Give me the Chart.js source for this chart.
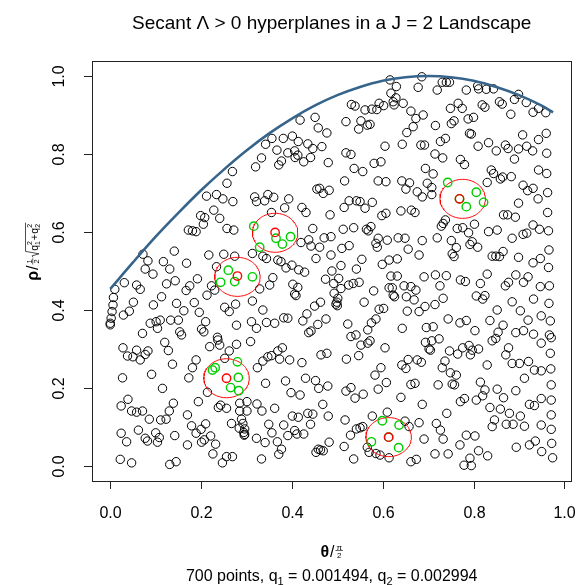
<!DOCTYPE html>
<html>
<head>
<meta charset="utf-8">
<script src="https://cdn.jsdelivr.net/npm/chart.js@4/dist/chart.umd.min.js"></script>
<style>
html,body{margin:0;padding:0;background:#fff;}
canvas{display:block;}
</style>
</head>
<body>
<canvas id="c" width="577" height="585" style="width:577px;height:585px"></canvas>
<script>
// ---------------- DATA ----------------
const xTicks = [0, 0.2, 0.4, 0.6, 0.8, 1.0];
const xTickLabels = ["0.0", "0.2", "0.4", "0.6", "0.8", "1.0"];
const yTicks = [0, 0.2, 0.4, 0.6, 0.8, 1.0];
const yTickLabels = ["0.0", "0.2", "0.4", "0.6", "0.8", "1.0"];

// upper envelope (blue curve)
const curveX = [0, 0.05, 0.1, 0.15, 0.2, 0.25, 0.3, 0.35, 0.4, 0.45, 0.5, 0.55, 0.6, 0.65, 0.7, 0.75, 0.8, 0.85, 0.9, 0.95, 0.975];
const curveY = [0.454, 0.522, 0.588, 0.649, 0.707, 0.760, 0.809, 0.853, 0.891, 0.924, 0.951, 0.972, 0.988, 0.997, 1.0, 0.997, 0.988, 0.972, 0.951, 0.924, 0.907];

// black points (theta, rho)
const landscapePoints = [
[0.269,0.755],[0.257,0.725],[0.212,0.692],[0.234,0.696],
[0.616,0.990],[0.630,0.973],[0.618,0.956],[0.629,0.944],[0.623,0.934],[0.625,0.926],[0.645,0.930],[0.662,0.910],[0.653,0.855],[0.643,0.825],[0.531,0.927],[0.539,0.923],[0.561,0.913],[0.576,0.915],[0.587,0.914],[0.602,0.924],[0.592,0.930],[0.519,0.883],[0.552,0.885],[0.566,0.874],[0.572,0.876],[0.547,0.864],[0.451,0.894],[0.418,0.887],[0.458,0.867],[0.477,0.854],[0.342,0.825],[0.356,0.840],[0.381,0.840],[0.401,0.846],[0.414,0.832],[0.435,0.826],[0.446,0.814],[0.466,0.819],[0.367,0.810],[0.391,0.803],[0.406,0.808],[0.413,0.797],[0.407,0.791],[0.426,0.780],[0.441,0.791],[0.480,0.778],[0.377,0.782],[0.371,0.772],[0.333,0.790],[0.320,0.767],[0.519,0.803],[0.530,0.799],[0.581,0.776],[0.596,0.780],[0.605,0.820],[0.537,0.763],[0.556,0.755],[0.516,0.731],[0.590,0.731],[0.607,0.729],[0.642,0.731],[0.659,0.726],[0.651,0.710],[0.455,0.710],[0.461,0.712],[0.469,0.699],[0.482,0.707],[0.318,0.690],[0.347,0.696],[0.360,0.689],
[0.686,0.998],[0.678,0.971],[0.720,0.964],[0.731,0.984],[0.740,0.984],[0.747,0.984],[0.784,0.964],[0.809,0.975],[0.811,0.967],[0.828,0.966],[0.844,0.967],[0.857,0.934],[0.863,0.928],[0.890,0.940],[0.899,0.953],[0.916,0.932],[0.931,0.907],[0.943,0.917],[0.959,0.906],[0.882,0.902],[0.673,0.891],[0.689,0.900],[0.667,0.870],[0.716,0.873],[0.751,0.878],[0.757,0.885],[0.766,0.930],[0.775,0.917],[0.749,0.917],[0.788,0.890],[0.800,0.894],[0.819,0.926],[0.825,0.920],[0.791,0.853],[0.795,0.851],[0.684,0.823],[0.692,0.823],[0.727,0.832],[0.738,0.840],[0.810,0.820],[0.833,0.829],[0.850,0.808],[0.870,0.823],[0.876,0.814],[0.899,0.813],[0.917,0.820],[0.930,0.808],[0.908,0.849],[0.943,0.837],[0.960,0.853],[0.961,0.802],[0.715,0.800],[0.732,0.790],[0.771,0.786],[0.780,0.773],[0.890,0.787],[0.694,0.763],[0.711,0.749],[0.839,0.759],[0.844,0.750],[0.859,0.736],[0.864,0.741],[0.883,0.742],[0.830,0.727],[0.943,0.759],[0.961,0.750],[0.909,0.720],[0.919,0.706],[0.931,0.712],[0.963,0.701],[0.698,0.725],[0.708,0.714],[0.676,0.703],[0.708,0.696],[0.687,0.690],
[0.248,0.685],[0.270,0.678],[0.228,0.656],[0.199,0.642],[0.208,0.637],[0.241,0.635],[0.205,0.620],[0.172,0.605],[0.181,0.603],[0.189,0.601],[0.257,0.609],[0.272,0.605],[0.141,0.551],[0.217,0.541],[0.250,0.543],[0.274,0.538],[0.313,0.545],[0.168,0.520],[0.117,0.524],[0.131,0.505],[0.077,0.505],[0.094,0.492],[0.083,0.526],[0.072,0.543],[0.031,0.470],[0.058,0.464],[0.066,0.453],[0.124,0.467],[0.143,0.475],[0.175,0.462],[0.192,0.480],[0.167,0.450],[0.223,0.462],[0.230,0.451],[0.213,0.438],[0.234,0.511],[0.010,0.453],[0.007,0.432],[0.006,0.413],[0.004,0.396],[0.002,0.379],[0.000,0.366],[0.000,0.362],[0.029,0.387],[0.042,0.397],[0.051,0.420],[0.113,0.434],[0.095,0.413],[0.146,0.417],[0.162,0.398],[0.185,0.419],[0.196,0.394],[0.252,0.407],[0.262,0.396],[0.276,0.415],[0.313,0.423],[0.071,0.340],[0.088,0.366],[0.101,0.370],[0.110,0.374],[0.104,0.353],[0.133,0.374],[0.150,0.374],[0.153,0.344],[0.157,0.336],[0.201,0.351],[0.206,0.344],[0.210,0.370],[0.236,0.330],[0.278,0.361],[0.311,0.370],
[0.322,0.678],[0.340,0.680],[0.393,0.685],[0.384,0.662],[0.355,0.650],[0.422,0.663],[0.431,0.650],[0.484,0.644],[0.515,0.663],[0.526,0.680],[0.542,0.680],[0.550,0.678],[0.561,0.661],[0.577,0.676],[0.607,0.648],[0.598,0.642],[0.640,0.654],[0.663,0.656],[0.446,0.609],[0.420,0.573],[0.437,0.580],[0.442,0.564],[0.461,0.561],[0.471,0.585],[0.486,0.588],[0.513,0.607],[0.536,0.611],[0.564,0.607],[0.574,0.614],[0.568,0.603],[0.510,0.558],[0.526,0.565],[0.590,0.584],[0.585,0.571],[0.588,0.561],[0.610,0.579],[0.634,0.585],[0.649,0.584],[0.656,0.556],[0.453,0.532],[0.486,0.541],[0.336,0.538],[0.344,0.532],[0.369,0.528],[0.376,0.524],[0.387,0.508],[0.400,0.515],[0.415,0.503],[0.428,0.497],[0.508,0.514],[0.542,0.505],[0.554,0.530],[0.599,0.517],[0.614,0.528],[0.632,0.531],[0.358,0.483],[0.351,0.464],[0.329,0.454],[0.402,0.466],[0.413,0.458],[0.406,0.441],[0.409,0.437],[0.474,0.479],[0.488,0.500],[0.503,0.481],[0.508,0.455],[0.492,0.468],[0.493,0.443],[0.501,0.430],[0.499,0.420],[0.497,0.415],[0.500,0.411],[0.525,0.464],[0.535,0.468],[0.548,0.471],[0.580,0.449],[0.618,0.487],[0.632,0.487],[0.614,0.457],[0.621,0.457],[0.623,0.438],[0.626,0.434],[0.647,0.462],[0.662,0.460],[0.652,0.434],[0.336,0.400],[0.450,0.410],[0.463,0.420],[0.433,0.390],[0.475,0.377],[0.382,0.380],[0.391,0.379],[0.344,0.368],[0.362,0.366],[0.322,0.353],[0.424,0.372],[0.457,0.363],[0.442,0.346],[0.437,0.342],[0.523,0.364],[0.559,0.420],[0.575,0.367],[0.592,0.402],[0.602,0.404],[0.654,0.397],[0.585,0.377],[0.567,0.349],[0.541,0.336],[0.530,0.332],[0.643,0.353],
[0.671,0.650],[0.942,0.685],[0.899,0.674],[0.963,0.650],[0.866,0.644],[0.875,0.644],[0.892,0.638],[0.738,0.631],[0.733,0.622],[0.729,0.615],[0.764,0.609],[0.776,0.611],[0.789,0.598],[0.802,0.620],[0.833,0.601],[0.852,0.605],[0.885,0.584],[0.909,0.594],[0.917,0.597],[0.931,0.618],[0.945,0.607],[0.965,0.603],[0.687,0.578],[0.720,0.585],[0.751,0.578],[0.762,0.560],[0.792,0.568],[0.797,0.575],[0.809,0.561],[0.753,0.544],[0.757,0.537],[0.841,0.538],[0.849,0.538],[0.857,0.537],[0.865,0.550],[0.899,0.535],[0.931,0.521],[0.947,0.532],[0.966,0.554],[0.965,0.509],[0.680,0.541],[0.691,0.485],[0.716,0.490],[0.740,0.488],[0.726,0.462],[0.771,0.477],[0.782,0.473],[0.815,0.468],[0.830,0.492],[0.870,0.462],[0.877,0.471],[0.893,0.490],[0.910,0.471],[0.920,0.485],[0.947,0.460],[0.967,0.462],[0.673,0.451],[0.669,0.426],[0.693,0.409],[0.715,0.414],[0.733,0.430],[0.806,0.436],[0.820,0.428],[0.825,0.437],[0.885,0.421],[0.932,0.428],[0.966,0.417],[0.852,0.400],[0.903,0.398],[0.680,0.396],[0.744,0.377],[0.770,0.367],[0.784,0.373],[0.836,0.373],[0.865,0.361],[0.920,0.374],[0.949,0.385],[0.969,0.372],[0.696,0.355],[0.711,0.357],[0.803,0.347],[0.854,0.343],[0.893,0.342],[0.910,0.347],[0.932,0.338],[0.967,0.336],
[0.120,0.317],[0.128,0.296],[0.028,0.303],[0.038,0.282],[0.050,0.280],[0.058,0.297],[0.066,0.272],[0.077,0.286],[0.083,0.295],[0.137,0.261],[0.189,0.272],[0.181,0.252],[0.219,0.306],[0.237,0.323],[0.241,0.310],[0.262,0.295],[0.278,0.312],[0.309,0.319],[0.252,0.276],[0.027,0.226],[0.091,0.235],[0.115,0.199],[0.173,0.226],[0.214,0.189],[0.194,0.165],[0.243,0.156],[0.238,0.150],[0.256,0.148],[0.285,0.161],[0.301,0.165],[0.039,0.171],[0.024,0.154],[0.047,0.141],[0.058,0.138],[0.071,0.141],[0.086,0.120],[0.111,0.118],[0.123,0.120],[0.130,0.141],[0.139,0.161],[0.170,0.131],[0.179,0.103],[0.200,0.094],[0.210,0.108],[0.189,0.084],[0.201,0.061],[0.207,0.067],[0.221,0.077],[0.232,0.056],[0.170,0.054],[0.267,0.109],[0.285,0.141],[0.301,0.141],[0.289,0.120],[0.292,0.109],[0.284,0.097],[0.296,0.095],[0.294,0.086],[0.296,0.081],[0.295,0.079],[0.024,0.084],[0.036,0.062],[0.062,0.092],[0.077,0.071],[0.082,0.064],[0.100,0.085],[0.108,0.073],[0.104,0.061],[0.142,0.078],[0.022,0.017],[0.047,0.008],[0.131,0.004],[0.145,0.011],[0.226,0.031],[0.247,0.008],[0.256,0.024],[0.269,0.024],
[0.552,0.310],[0.567,0.315],[0.572,0.321],[0.605,0.303],[0.520,0.274],[0.547,0.283],[0.379,0.303],[0.369,0.295],[0.355,0.283],[0.347,0.280],[0.336,0.269],[0.324,0.252],[0.373,0.274],[0.395,0.272],[0.422,0.265],[0.464,0.285],[0.477,0.289],[0.342,0.212],[0.386,0.218],[0.398,0.188],[0.418,0.182],[0.430,0.225],[0.452,0.219],[0.459,0.199],[0.479,0.205],[0.519,0.192],[0.530,0.201],[0.539,0.174],[0.557,0.184],[0.583,0.233],[0.596,0.252],[0.608,0.214],[0.590,0.197],[0.642,0.259],[0.651,0.250],[0.656,0.273],[0.662,0.209],[0.640,0.176],[0.323,0.159],[0.334,0.141],[0.362,0.148],[0.401,0.128],[0.414,0.125],[0.435,0.135],[0.446,0.133],[0.468,0.158],[0.480,0.128],[0.441,0.107],[0.382,0.105],[0.349,0.107],[0.356,0.085],[0.322,0.071],[0.341,0.060],[0.368,0.062],[0.377,0.043],[0.371,0.030],[0.391,0.078],[0.406,0.091],[0.411,0.082],[0.426,0.082],[0.517,0.118],[0.529,0.079],[0.542,0.095],[0.550,0.098],[0.556,0.101],[0.482,0.061],[0.463,0.041],[0.453,0.035],[0.458,0.043],[0.469,0.039],[0.515,0.050],[0.536,0.018],[0.333,0.018],[0.577,0.128],[0.610,0.138],[0.649,0.115],[0.658,0.101],[0.566,0.048],[0.570,0.035],[0.585,0.032],[0.594,0.028],[0.614,0.021],[0.662,0.011],
[0.694,0.317],[0.708,0.321],[0.724,0.326],[0.702,0.300],[0.705,0.297],[0.747,0.295],[0.765,0.287],[0.776,0.303],[0.790,0.309],[0.793,0.285],[0.797,0.297],[0.811,0.300],[0.841,0.321],[0.849,0.327],[0.877,0.303],[0.871,0.285],[0.949,0.315],[0.971,0.329],[0.969,0.289],[0.676,0.272],[0.685,0.266],[0.731,0.252],[0.737,0.269],[0.749,0.239],[0.762,0.233],[0.753,0.210],[0.758,0.208],[0.722,0.208],[0.671,0.212],[0.830,0.259],[0.885,0.263],[0.901,0.263],[0.921,0.268],[0.934,0.246],[0.949,0.244],[0.970,0.249],[0.912,0.225],[0.815,0.215],[0.825,0.195],[0.820,0.180],[0.806,0.169],[0.771,0.165],[0.780,0.173],[0.852,0.197],[0.866,0.175],[0.893,0.193],[0.949,0.173],[0.971,0.208],[0.971,0.169],[0.687,0.158],[0.741,0.135],[0.680,0.111],[0.718,0.109],[0.727,0.092],[0.691,0.069],[0.733,0.069],[0.836,0.150],[0.859,0.146],[0.879,0.135],[0.903,0.128],[0.923,0.158],[0.934,0.155],[0.846,0.118],[0.841,0.101],[0.872,0.107],[0.887,0.107],[0.912,0.102],[0.949,0.105],[0.971,0.131],[0.971,0.094],[0.784,0.079],[0.803,0.077],[0.770,0.054],[0.811,0.039],[0.831,0.026],[0.715,0.031],[0.744,0.031],[0.779,0.002],[0.792,0.020],[0.795,0.001],[0.674,0.017],[0.894,0.048],[0.923,0.054],[0.936,0.064],[0.950,0.037],[0.972,0.058],[0.974,0.021]
];

// secant-hyperplane neighbourhoods (green), centres (red) and circles
const greenPoints = [
[0.743,0.727],[0.806,0.702],[0.769,0.685],[0.784,0.665],[0.822,0.676],
[0.316,0.615],[0.365,0.584],[0.379,0.569],[0.397,0.588],[0.329,0.561],
[0.260,0.502],[0.243,0.471],[0.274,0.473],[0.313,0.485],
[0.225,0.246],[0.231,0.252],[0.280,0.267],[0.282,0.227],[0.265,0.201],[0.283,0.193],
[0.599,0.116],[0.636,0.105],[0.613,0.074],[0.575,0.062],[0.635,0.047]
];
const redPoints = [[0.769,0.685],[0.363,0.599],[0.280,0.487],[0.256,0.225],[0.613,0.074]];
const circleCentresX = [0.776, 0.363, 0.280, 0.256, 0.613];
const circleCentresY = [0.685, 0.598, 0.485, 0.225, 0.074];
const circleRadius = 0.05;

// ---------------- CHART ----------------
const FONT = '"Liberation Sans", Arial, Helvetica, sans-serif';
const fnt = (px, bold) => (bold ? 'bold ' : '') + px + 'px ' + FONT;

function circleData(cx, cy, r) {
  const pts = [];
  for (let i = 0; i <= 96; i++) {
    const a = i / 96 * 2 * Math.PI;
    pts.push({x: cx + r * Math.cos(a), y: cy + r * Math.sin(a)});
  }
  return pts;
}

const datasets = [];
datasets.push({
  label: 'centres', data: redPoints.map(p => ({x: p[0], y: p[1]})),
  pointRadius: 4.2, pointBorderWidth: 1.4, pointBorderColor: '#ff0000',
  pointBackgroundColor: 'rgba(0,0,0,0)', showLine: false, order: 0
});
datasets.push({
  label: 'neighbours', data: greenPoints.map(p => ({x: p[0], y: p[1]})),
  pointRadius: 4.2, pointBorderWidth: 1.4, pointBorderColor: '#00cd00',
  pointBackgroundColor: 'rgba(0,0,0,0)', showLine: false, order: 1
});
for (let i = 0; i < circleCentresX.length; i++) {
  datasets.push({
    label: 'circle' + i, data: circleData(circleCentresX[i], circleCentresY[i], circleRadius),
    showLine: true, pointRadius: 0, borderColor: '#ff0000', borderWidth: 1, tension: 0, order: 2
  });
}
datasets.push({
  label: 'envelope', data: curveX.map((x, i) => ({x: x, y: curveY[i]})),
  showLine: true, pointRadius: 0, borderColor: '#36648b', borderWidth: 2.6,
  cubicInterpolationMode: 'monotone', order: 3
});
datasets.push({
  label: 'points', data: landscapePoints.map(p => ({x: p[0], y: p[1]})),
  pointRadius: 4.2, pointBorderWidth: 1, pointBorderColor: '#000000',
  pointBackgroundColor: 'rgba(0,0,0,0)', showLine: false, order: 4
});

const frame = {
  id: 'frame',
  afterDraw(chart) {
    const ctx = chart.ctx, a = chart.chartArea;
    const xs = chart.scales.x, ys = chart.scales.y;
    ctx.save();
    ctx.strokeStyle = '#222';
    ctx.lineWidth = 1;
    ctx.strokeRect(Math.round(a.left) + 0.5, Math.round(a.top) + 0.5,
                   Math.round(a.right - a.left), Math.round(a.bottom - a.top));
    ctx.fillStyle = '#000';
    // x ticks
    ctx.font = fnt(16);
    ctx.textAlign = 'center'; ctx.textBaseline = 'alphabetic';
    xTicks.forEach((v, i) => {
      const px = Math.round(xs.getPixelForValue(v)) + 0.5;
      ctx.beginPath(); ctx.moveTo(px, a.bottom); ctx.lineTo(px, a.bottom + 8); ctx.stroke();
      ctx.fillText(xTickLabels[i], px, 518);
    });
    // y ticks
    yTicks.forEach((v, i) => {
      const py = Math.round(ys.getPixelForValue(v)) + 0.5;
      ctx.beginPath(); ctx.moveTo(a.left - 8, py); ctx.lineTo(a.left, py); ctx.stroke();
      ctx.save();
      ctx.translate(64, py); ctx.rotate(-Math.PI / 2);
      ctx.fillText(yTickLabels[i], 0, 0);
      ctx.restore();
    });
    const cx = (a.left + a.right) / 2;
    // title
    ctx.font = fnt(19);
    ctx.fillText('Secant \u039B > 0 hyperplanes in a J = 2 Landscape', cx, 29);

    // subtitle with subscripts
    const sub = [['700 points, q', 16, 0], ['1', 11, 4], [' = 0.001494, q', 16, 0], ['2', 11, 4], [' = 0.002994', 16, 0]];
    let tw = 0;
    sub.forEach(s => { ctx.font = fnt(s[1]); tw += ctx.measureText(s[0]).width; });
    let sx = cx - tw / 2;
    ctx.textAlign = 'left';
    sub.forEach(s => { ctx.font = fnt(s[1]); ctx.fillText(s[0], sx, 581 + s[2]); sx += ctx.measureText(s[0]).width; });

    // x label: bold theta / (pi over 2)
    function xlab(draw) {
      let x = 0;
      ctx.font = fnt(16, true);
      if (draw) ctx.fillText('\u03B8', x, 0);
      x += ctx.measureText('\u03B8').width + 1;
      ctx.font = fnt(16);
      if (draw) ctx.fillText('/', x, 0);
      x += ctx.measureText('/').width + 1;
      ctx.font = fnt(8);
      const fw = Math.max(ctx.measureText('\u03C0').width, ctx.measureText('2').width) + 2;
      if (draw) {
        ctx.textAlign = 'center';
        ctx.fillText('\u03C0', x + fw / 2, -7.5);
        ctx.fillText('2', x + fw / 2, 0.5);
        ctx.textAlign = 'left';
        ctx.beginPath(); ctx.lineWidth = 0.7; ctx.moveTo(x, -6.5); ctx.lineTo(x + fw, -6.5); ctx.stroke(); ctx.lineWidth = 1;
      }
      x += fw;
      return x;
    }
    let W = xlab(false);
    ctx.save(); ctx.translate(cx - W / 2, 557); xlab(true); ctx.restore();

    // y label: bold rho / (1/2 sqrt(q1^2 + q2^2)), rotated
    function ylab(draw) {
      let x = 0;
      ctx.font = fnt(16, true);
      if (draw) ctx.fillText('\u03C1', x, 0);
      x += ctx.measureText('\u03C1').width + 1;
      ctx.font = fnt(16);
      if (draw) ctx.fillText('/', x, 0);
      x += ctx.measureText('/').width + 1;
      ctx.font = fnt(7.5);
      const fw = ctx.measureText('2').width + 2;
      if (draw) {
        ctx.textAlign = 'center';
        ctx.fillText('1', x + fw / 2, -6);
        ctx.fillText('2', x + fw / 2, 1);
        ctx.textAlign = 'left';
        ctx.beginPath(); ctx.lineWidth = 0.7; ctx.moveTo(x, -4.8); ctx.lineTo(x + fw, -4.8); ctx.stroke(); ctx.lineWidth = 1;
      }
      x += fw + 1;
      const rs = x;
      x += 6.5;
      const parts = [['q', '1'], ['+'], ['q', '2']];
      parts.forEach(p => {
        ctx.font = fnt(10.5);
        if (draw) ctx.fillText(p[0], x, 0);
        x += ctx.measureText(p[0]).width;
        if (p.length > 1) {
          ctx.font = fnt(7);
          if (draw) { ctx.fillText(p[1], x, 2.5); ctx.fillText('2', x, -5.5); }
          x += ctx.measureText('2').width + 0.8;
        } else {
          x += 0.5;
        }
      });
      if (draw) {
        ctx.beginPath(); ctx.lineWidth = 0.8;
        ctx.moveTo(rs, -4.5); ctx.lineTo(rs + 1.5, -5.5); ctx.lineTo(rs + 3.5, 1.5);
        ctx.lineTo(rs + 6, -12); ctx.lineTo(x + 0.5, -12);
        ctx.stroke(); ctx.lineWidth = 1;
      }
      return x;
    }
    W = ylab(false);
    ctx.save(); ctx.translate(37.5, 252); ctx.rotate(-Math.PI / 2); ctx.translate(-W / 2, 0); ylab(true); ctx.restore();
    ctx.restore();
  }
};

new Chart(document.getElementById('c'), {
  type: 'scatter',
  data: {datasets: datasets},
  options: {
    responsive: false,
    animation: false,
    events: [],
    layout: {padding: {left: 92, right: 5, top: 61, bottom: 104}},
    plugins: {legend: {display: false}, tooltip: {enabled: false}, title: {display: false}},
    scales: {
      x: {type: 'linear', min: -0.0402, max: 1.0154, display: false},
      y: {type: 'linear', min: -0.0385, max: 1.0385, display: false}
    }
  },
  plugins: [frame]
});
</script>
</body>
</html>
